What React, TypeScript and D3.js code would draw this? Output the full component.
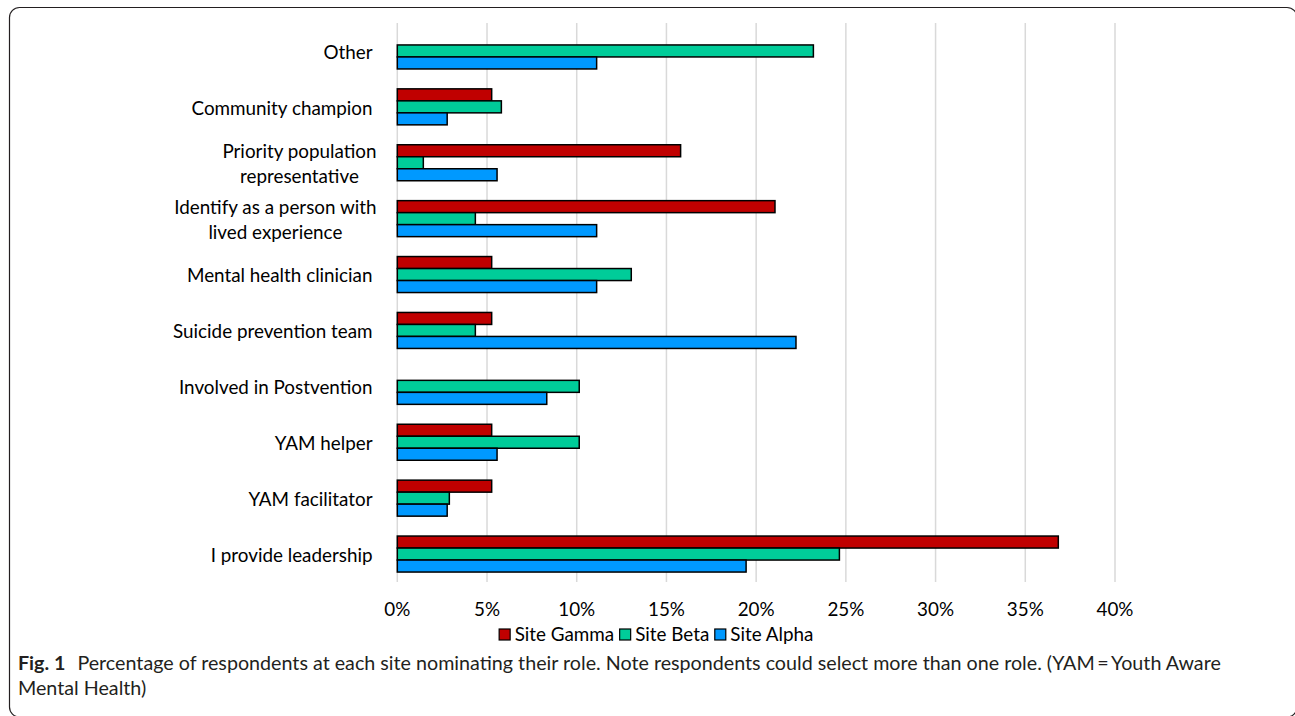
import React, { useEffect, useRef } from "react";
import * as d3 from "d3";

const categories = [
  "Other",
  "Community champion",
  "Priority population representative",
  "Identify as a person with lived experience",
  "Mental health clinician",
  "Suicide prevention team",
  "Involved in Postvention",
  "YAM helper",
  "YAM facilitator",
  "I provide leadership",
];
const categoryLines = [
  ["Other"],
  ["Community champion"],
  ["Priority population", "representative"],
  ["Identify as a person with", "lived experience"],
  ["Mental health clinician"],
  ["Suicide prevention team"],
  ["Involved in Postvention"],
  ["YAM helper"],
  ["YAM facilitator"],
  ["I provide leadership"],
];
const seriesNames = ["Site Gamma", "Site Beta", "Site Alpha"];
const siteGamma = [0, 5.26, 15.79, 21.05, 5.26, 5.26, 0, 5.26, 5.26, 36.84];
const siteBeta = [23.19, 5.8, 1.45, 4.35, 13.04, 4.35, 10.14, 10.14, 2.9, 24.64];
const siteAlpha = [11.11, 2.78, 5.56, 11.11, 11.11, 22.22, 8.33, 5.56, 2.78, 19.44];
const seriesColors = ["#C00000", "#00CC99", "#0099FF"];
const xTicks = [0, 5, 10, 15, 20, 25, 30, 35, 40];
const captionBold = "Fig. 1";
const captionLine1 =
  "Percentage of respondents at each site nominating their role. Note respondents could select more than one role. (YAM\u2009=\u2009Youth Aware";
const captionLine2 = "Mental Health)";

export default function App() {
  const ref = useRef<SVGSVGElement>(null);

  useEffect(() => {
    const svg = d3.select(ref.current as SVGSVGElement);
    svg.selectAll("*").remove();
    const font = "Lato, 'Open Sans', sans-serif";

    const measure = (txt: string, size: number, weight = "normal") => {
      const t = svg
        .append("text")
        .attr("font-family", font)
        .attr("font-size", size)
        .attr("font-weight", weight)
        .text(txt);
      const w = (t.node() as SVGTextElement).getComputedTextLength();
      t.remove();
      return w;
    };

    const fs = (20 * 181) / measure("Community champion", 20);

    // frame
    svg
      .append("rect")
      .attr("x", 9.5)
      .attr("y", 7.5)
      .attr("width", 1287.5)
      .attr("height", 709.5)
      .attr("rx", 10)
      .attr("fill", "none")
      .attr("stroke", "#231f20")
      .attr("stroke-width", 1.2);

    const x = d3.scaleLinear().domain([0, 40]).range([397.3, 1115]);
    const y = d3.scaleBand<string>().domain(categories).range([23, 582]);
    const bw = y.bandwidth();
    const groupH = 36;
    const ys = d3
      .scaleBand<string>()
      .domain(seriesNames)
      .range([(bw - groupH) / 2, (bw + groupH) / 2]);

    // gridlines
    svg
      .append("g")
      .selectAll("line")
      .data(xTicks)
      .join("line")
      .attr("x1", (d) => x(d))
      .attr("x2", (d) => x(d))
      .attr("y1", 23)
      .attr("y2", 582)
      .attr("stroke", "#d9d9d9")
      .attr("stroke-width", 1.5);

    // tick labels
    svg
      .append("g")
      .selectAll("text")
      .data(xTicks)
      .join("text")
      .attr("x", (d) => x(d))
      .attr("y", 615.5)
      .attr("text-anchor", "middle")
      .attr("font-family", font)
      .attr("font-size", fs)
      .attr("fill", "#000")
      .text((d) => `${d}%`);

    // bars
    const seriesData = [siteGamma, siteBeta, siteAlpha];
    seriesNames.forEach((s, si) => {
      svg
        .append("g")
        .selectAll("rect")
        .data(categories.map((c, i) => ({ c, v: seriesData[si][i] })).filter((d) => d.v > 0))
        .join("rect")
        .attr("x", x(0))
        .attr("y", (d) => (y(d.c) as number) + (ys(s) as number))
        .attr("width", (d) => x(d.v) - x(0))
        .attr("height", ys.bandwidth())
        .attr("fill", seriesColors[si])
        .attr("stroke", "#000")
        .attr("stroke-width", 1.5);
    });

    // category labels
    const lh = 25;
    categories.forEach((c, i) => {
      const lines = categoryLines[i];
      const widths = lines.map((l) => measure(l, fs));
      const wmax = Math.max(...widths);
      const right = lines.length > 1 ? 376.5 : 372.5;
      const cx = right - wmax / 2;
      const cy = (y(c) as number) + bw / 2 + 1;
      lines.forEach((l, li) => {
        const ly = cy + (li - (lines.length - 1) / 2) * lh;
        svg
          .append("text")
          .attr("x", cx)
          .attr("y", ly + fs * 0.36)
          .attr("text-anchor", "middle")
          .attr("font-family", font)
          .attr("font-size", fs)
          .attr("fill", "#000")
          .text(l);
      });
    });

    // legend
    const sq = 11;
    const gapSq = 5;
    const gapItem = 5;
    const itemWidths = seriesNames.map((s) => sq + gapSq + measure(s, fs));
    const total = d3.sum(itemWidths) + gapItem * (seriesNames.length - 1);
    let lx = 656 - total / 2;
    const legend = svg.append("g");
    seriesNames.forEach((s, si) => {
      legend
        .append("rect")
        .attr("x", lx + 0.5)
        .attr("y", 629)
        .attr("width", sq)
        .attr("height", sq)
        .attr("fill", seriesColors[si])
        .attr("stroke", "#000")
        .attr("stroke-width", 1.2);
      legend
        .append("text")
        .attr("x", lx + sq + gapSq)
        .attr("y", 640.5)
        .attr("font-family", font)
        .attr("font-size", fs)
        .attr("fill", "#000")
        .text(s);
      lx += itemWidths[si] + gapItem;
    });

    // caption
    const capFont = 20;
    const boldW = measure(captionBold, capFont, "bold");
    const restW = measure(captionLine1, capFont);
    const gap = 12;
    const cfs = (capFont * (1221 - 18 - gap)) / (boldW + restW);
    const cap = svg
      .append("text")
      .attr("x", 18)
      .attr("y", 670)
      .attr("font-family", font)
      .attr("font-size", cfs)
      .attr("fill", "#231f20");
    cap.append("tspan").attr("font-weight", "bold").text(captionBold);
    cap
      .append("tspan")
      .attr("x", 18 + (boldW * cfs) / capFont + gap)
      .text(captionLine1);
    svg
      .append("text")
      .attr("x", 18)
      .attr("y", 695)
      .attr("font-family", font)
      .attr("font-size", cfs)
      .attr("fill", "#231f20")
      .text(captionLine2);
  }, []);

  return (
    <svg
      ref={ref}
      width={1295}
      height={716}
      style={{ position: "absolute", left: 0, top: 0, display: "block", background: "#fff" }}
    />
  );
}
